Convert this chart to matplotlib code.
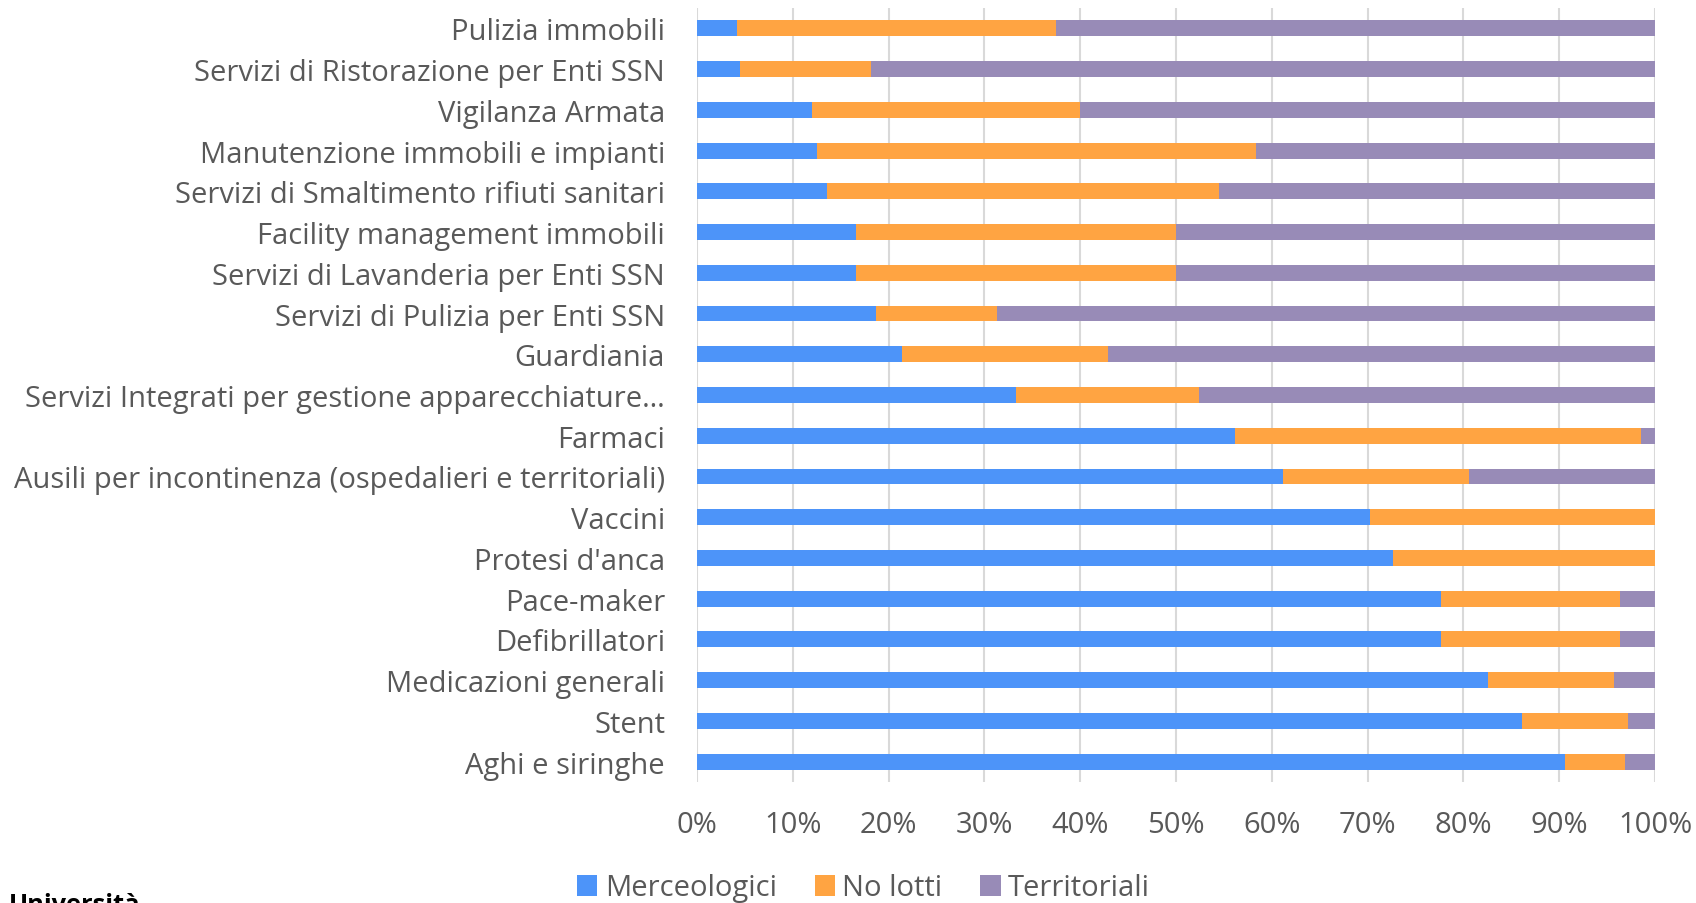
import matplotlib.pyplot as plt
import numpy as np

plt.rcParams['font.family'] = ['Open Sans', 'DejaVu Sans']

categorie = ['Pulizia immobili',
             'Servizi di Ristorazione per Enti SSN',
             'Vigilanza Armata',
             'Manutenzione immobili e impianti',
             'Servizi di Smaltimento rifiuti sanitari',
             'Facility management immobili',
             'Servizi di Lavanderia per Enti SSN',
             'Servizi di Pulizia per Enti SSN',
             'Guardiania',
             'Servizi Integrati per gestione apparecchiature…',
             'Farmaci',
             'Ausili per incontinenza (ospedalieri e territoriali)',
             'Vaccini',
             "Protesi d'anca",
             'Pace-maker',
             'Defibrillatori',
             'Medicazioni generali',
             'Stent',
             'Aghi e siringhe']

# quote in percentuale
merceologici = [4.2, 4.5, 12.0, 12.5, 13.6, 16.6, 16.6, 18.7, 21.4, 33.3,
                56.2, 61.2, 70.3, 72.7, 77.7, 77.7, 82.6, 86.1, 90.6]
no_lotti = [33.3, 13.7, 28.0, 45.8, 40.9, 33.4, 33.4, 12.6, 21.5, 19.1,
            42.3, 19.4, 29.7, 27.3, 18.6, 18.6, 13.1, 11.1, 6.3]
territoriali = [62.5, 81.8, 60.0, 41.7, 45.5, 50.0, 50.0, 68.7, 57.1, 47.6,
                1.5, 19.4, 0.0, 0.0, 3.7, 3.7, 4.3, 2.8, 3.1]
serie = ['Merceologici', 'No lotti', 'Territoriali']
colori = ['#4d94f9', '#ffa442', '#988bb7']
tick_x = [0, 10, 20, 30, 40, 50, 60, 70, 80, 90, 100]

grigio = '#595959'

fig = plt.figure(figsize=(16.96, 9.04), dpi=100)
ax = fig.add_axes([697 / 1696, 1 - 783 / 904, (1655 - 697) / 1696, (783 - 9) / 904])

y = np.arange(len(categorie))
left = np.zeros(len(categorie))
for nome, vals, col in zip(serie, [merceologici, no_lotti, territoriali], colori):
    vals = np.array(vals)
    ax.barh(y, vals, left=left, height=0.39, color=col, label=nome, zorder=3)
    left = left + vals

ax.set_xlim(0, 100)
ax.set_ylim(len(categorie) - 0.5, -0.5)
ax.set_xticks(tick_x)
ax.set_xticklabels(['%d%%' % t for t in tick_x])
ax.set_yticks(y)
ax.set_yticklabels(categorie)
ax.xaxis.grid(True, color='#d9d9d9', linewidth=1.5, zorder=0)
ax.yaxis.grid(False)
for s in ax.spines.values():
    s.set_visible(False)
ax.tick_params(axis='both', length=0, labelsize=21, labelcolor=grigio)
ax.tick_params(axis='y', pad=23)
ax.tick_params(axis='x', pad=20)

leg = fig.legend(loc='center', bbox_to_anchor=(863.5 / 1696, 1 - 889 / 904), ncol=3,
                 frameon=False, fontsize=21, handlelength=0.7, handleheight=0.7,
                 handletextpad=0.25, columnspacing=1.3, labelcolor=grigio)

fig.text(9 / 1696, 1 - 893 / 904, 'Università', fontsize=18.3, fontweight='bold',
         color='black', va='top', ha='left')

fig.savefig('out.png', dpi=100)
